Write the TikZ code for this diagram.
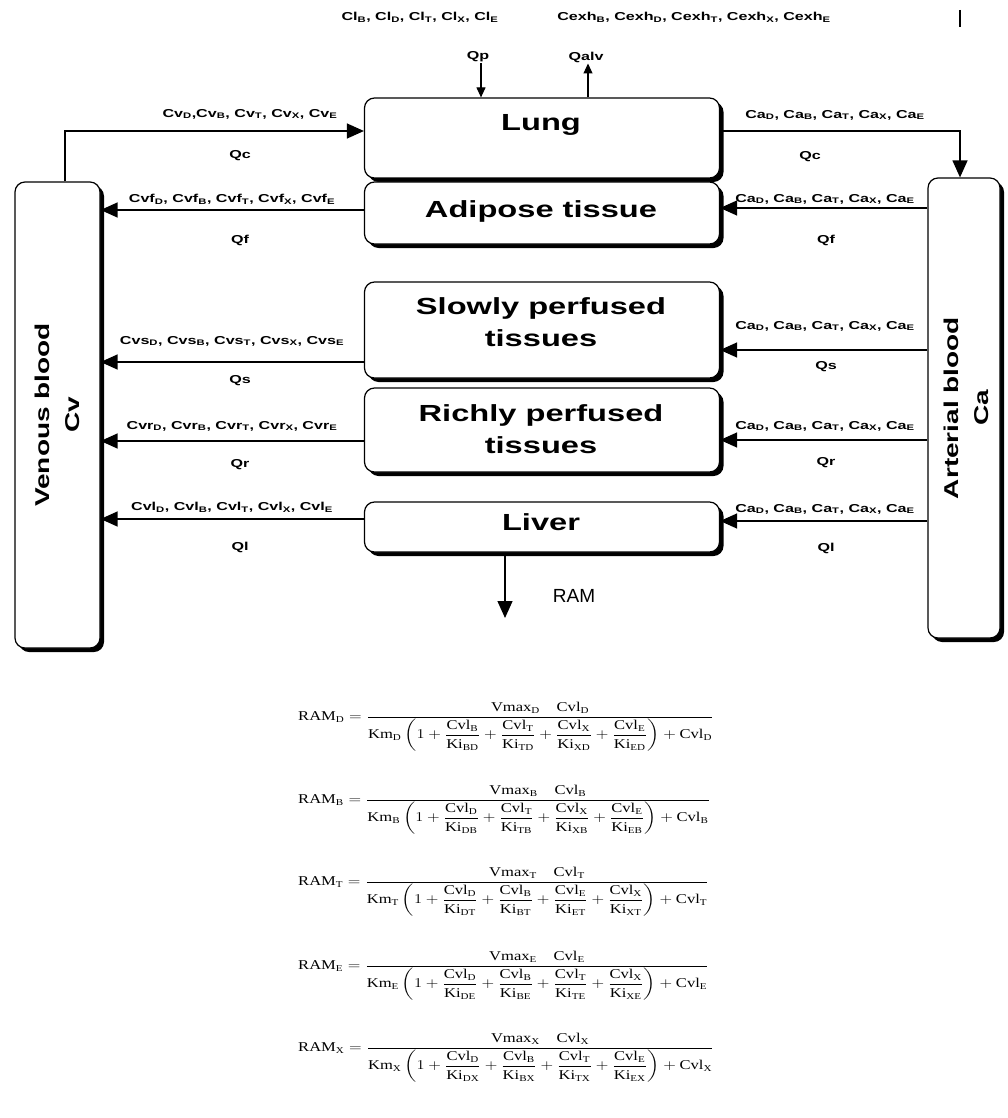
\documentclass[tikz,border=0pt]{standalone}
\usepackage{amsmath}
\usepackage{fontspec}
\setmainfont{Liberation Serif}
\setsansfont{Liberation Sans}
\newfontfamily\wsf[FakeStretch=1.4]{Liberation Sans}
\usetikzlibrary{arrows.meta,shadows}
\newcommand\sbs[1]{\textsubscript{#1}}
\newcommand\rmf[2]{\dfrac{\mathrm{#1}}{\mathrm{#2}}}
\newcommand\rameq[5]{\scalebox{1.38}[1.12]{$\mathrm{RAM_{#1}} = \dfrac{\mathrm{Vmax_{#1}}\quad\mathrm{Cvl_{#1}}}{\mathrm{Km_{#1}}\left(1+\rmf{Cvl_{#2}}{Ki_{#2#1}}+\rmf{Cvl_{#3}}{Ki_{#3#1}}+\rmf{Cvl_{#4}}{Ki_{#4#1}}+\rmf{Cvl_{#5}}{Ki_{#5#1}}\right)+\mathrm{Cvl_{#1}}}$}}
\begin{document}
\begin{tikzpicture}[x=1pt,y=-1pt,
  organ/.style={draw, line width=1.2pt, rounded corners=10pt, fill=white,
    drop shadow={shadow xshift=4pt, shadow yshift=-4pt, opacity=1, fill=black},
    inner sep=0pt},
  otext/.style={font=\wsf\bfseries\fontsize{23.3}{32}\selectfont, align=center, inner sep=0pt},
  blood/.style={font=\wsf\bfseries\fontsize{20}{30}\selectfont, align=center, rotate=90, inner sep=0pt},
  flow/.style={line width=1.3pt, -{Triangle[length=17pt,width=15pt]}},
  smallflow/.style={line width=1.1pt, -{Triangle[length=10pt,width=9pt]}},
  lab/.style={font=\wsf\bfseries\fontsize{11.5}{13}\selectfont, inner sep=1pt},
  eq/.style={font=\fontsize{12}{14}\selectfont, inner sep=0pt, anchor=west}]
\fill[white] (0,0) rectangle (1007,1118);
\useasboundingbox (0,0) rectangle (1007,1118);

% top texts
\node[lab] (cl) at (420,17) {Cl\sbs{B}, Cl\sbs{D}, Cl\sbs{T}, Cl\sbs{X}, Cl\sbs{E}};
\node[lab] (cexh) at (694,17) {Cexh\sbs{B}, Cexh\sbs{D}, Cexh\sbs{T}, Cexh\sbs{X}, Cexh\sbs{E}};
\coordinate (bar1) at (960,10);
\coordinate (bar2) at (960,27);
\draw[line width=1.3pt] (bar1) -- (bar2);
\node[lab] (qp) at (478,57) {Qp};
\node[lab] (qalv) at (586,57) {Qalv};

% organs
\node[organ, minimum width=355pt, minimum height=80pt] (lung) at (542,138) {};
\node[organ, minimum width=355pt, minimum height=62pt] (adi) at (542,213) {};
\node[organ, minimum width=355pt, minimum height=96pt] (slow) at (542,330) {};
\node[organ, minimum width=355pt, minimum height=84pt] (rich) at (542,430) {};
\node[organ, minimum width=355pt, minimum height=50pt] (liver) at (542,527) {};
\node[organ, minimum width=85pt, minimum height=466pt] (ven) at (57.5,415) {};
\node[organ, minimum width=72pt, minimum height=460pt] (art) at (964,408) {};
\node[otext] (lungtxt) at (541,125) {Lung};
\node[otext] (aditxt) at (541,211) {Adipose tissue};
\node[otext] (slowtxt) at (541,322) {Slowly perfused\\tissues};
\node[otext] (richtxt) at (541,429) {Richly perfused\\tissues};
\node[otext] (livertxt) at (541,522) {Liver};
\node[blood] (ventext) at (57,415) {Venous blood\\Cv};
\node[blood] (arttext) at (966,408) {Arterial blood\\Ca};

% Qp / Qalv
\draw[smallflow] ([xshift=3pt]qp.south) -- ([xshift=3pt]qp.south |- lung.north);
\draw[smallflow] ([xshift=2pt]qalv.south |- lung.north) -- ([xshift=2pt]qalv.south);

% top circuit
\coordinate (ytop) at (0,131);
\draw[flow] ([xshift=7.5pt]ven.north) |- (lung.west |- ytop);
\draw[flow] (lung.east |- ytop) -| ([xshift=-4pt]art.north);
\node[lab] (lcv) at (250,114) {Cv\sbs{D},Cv\sbs{B}, Cv\sbs{T}, Cv\sbs{X}, Cv\sbs{E}};
\node[lab] (lqc) at (240,156) {Qc};
\node[lab] (rca0) at (835,115) {Ca\sbs{D}, Ca\sbs{B}, Ca\sbs{T}, Ca\sbs{X}, Ca\sbs{E}};
\node[lab] (rqc) at (810,157) {Qc};

% adipose
\coordinate (yaL) at (0,210);
\coordinate (yaR) at (0,208);
\draw[flow] (adi.west |- yaL) -- (ven.east |- yaL);
\draw[flow] (art.west |- yaR) -- (adi.east |- yaR);
\node[lab] (lcvf) at (232,199) {Cvf\sbs{D}, Cvf\sbs{B}, Cvf\sbs{T}, Cvf\sbs{X}, Cvf\sbs{E}};
\node[lab] (lqf) at (240,240) {Qf};
\node[lab] (rca1) at (825,199) {Ca\sbs{D}, Ca\sbs{B}, Ca\sbs{T}, Ca\sbs{X}, Ca\sbs{E}};
\node[lab] (rqf) at (826,240) {Qf};

% slowly
\coordinate (ysL) at (0,362);
\coordinate (ysR) at (0,350);
\draw[flow] (slow.west |- ysL) -- (ven.east |- ysL);
\draw[flow] (art.west |- ysR) -- (slow.east |- ysR);
\node[lab] (lcvs) at (232,341) {Cvs\sbs{D}, Cvs\sbs{B}, Cvs\sbs{T}, Cvs\sbs{X}, Cvs\sbs{E}};
\node[lab] (lqs) at (240,381) {Qs};
\node[lab] (rca2) at (825,326) {Ca\sbs{D}, Ca\sbs{B}, Ca\sbs{T}, Ca\sbs{X}, Ca\sbs{E}};
\node[lab] (rqs) at (826,367) {Qs};

% richly
\coordinate (yrL) at (0,441);
\coordinate (yrR) at (0,440);
\draw[flow] (rich.west |- yrL) -- (ven.east |- yrL);
\draw[flow] (art.west |- yrR) -- (rich.east |- yrR);
\node[lab] (lcvr) at (232,426) {Cvr\sbs{D}, Cvr\sbs{B}, Cvr\sbs{T}, Cvr\sbs{X}, Cvr\sbs{E}};
\node[lab] (lqr) at (240,465) {Qr};
\node[lab] (rca3) at (825,426) {Ca\sbs{D}, Ca\sbs{B}, Ca\sbs{T}, Ca\sbs{X}, Ca\sbs{E}};
\node[lab] (rqr) at (826,463) {Qr};

% liver
\coordinate (ylL) at (0,519);
\coordinate (ylR) at (0,521);
\draw[flow] (liver.west |- ylL) -- (ven.east |- ylL);
\draw[flow] (art.west |- ylR) -- (liver.east |- ylR);
\node[lab] (lcvl) at (232,507) {Cvl\sbs{D}, Cvl\sbs{B}, Cvl\sbs{T}, Cvl\sbs{X}, Cvl\sbs{E}};
\node[lab] (lql) at (240,547) {Ql};
\node[lab] (rca4) at (825,509) {Ca\sbs{D}, Ca\sbs{B}, Ca\sbs{T}, Ca\sbs{X}, Ca\sbs{E}};
\node[lab] (rql) at (826,548) {Ql};

% RAM
\coordinate (ramend) at (505,618);
\draw[flow] (liver.south -| ramend) -- (ramend);
\node[font=\sffamily\fontsize{19}{22}\selectfont] (ram) at (574,596) {RAM};

% equations
\node[eq] (eqD) at (298,727) {\rameq{D}{B}{T}{X}{E}};
\node[eq] (eqB) at (298,810) {\rameq{B}{D}{T}{X}{E}};
\node[eq] (eqT) at (298,892) {\rameq{T}{D}{B}{E}{X}};
\node[eq] (eqE) at (298,976) {\rameq{E}{D}{B}{T}{X}};
\node[eq] (eqX) at (298,1058) {\rameq{X}{D}{B}{T}{E}};
\end{tikzpicture}
\end{document}
